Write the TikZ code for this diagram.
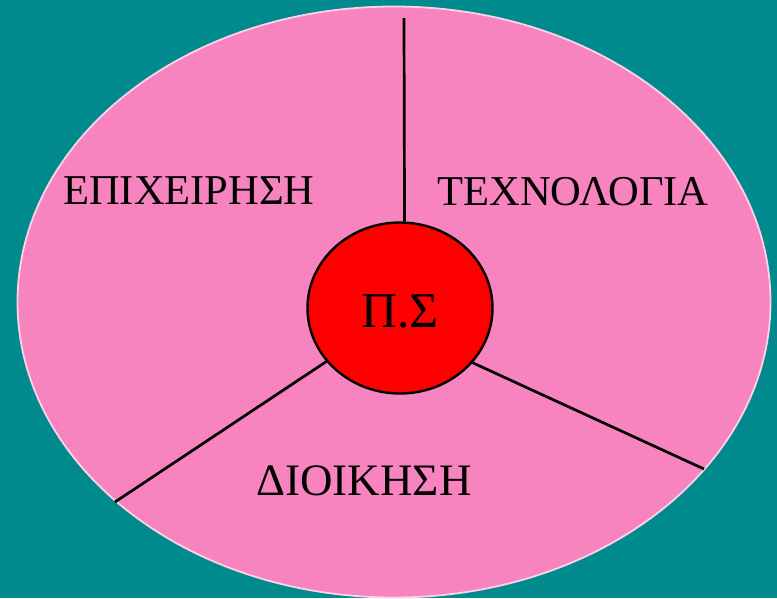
\documentclass[tikz,border=0pt]{standalone}
\usepackage{fontspec}
\setmainfont{Liberation Serif}
\usetikzlibrary{shapes.geometric}
\definecolor{bgteal}{HTML}{008A8E}
\definecolor{pinkfill}{HTML}{F783BF}
\definecolor{pinkedge}{HTML}{FBD3E8}
\definecolor{redfill}{HTML}{FF0000}
\tikzset{
  label text/.style={inner sep=0pt, anchor=base, text=black, font=\fontsize{42.5}{50}\selectfont},
  connector/.style={draw=black, line width=2.7pt},
}
\begin{document}
\begin{tikzpicture}[x=1pt,y=-1pt]
\fill[bgteal] (0,0) rectangle (777,598);
\useasboundingbox (0,0) rectangle (777,598);
\node[ellipse, fill=pinkfill, draw=pinkedge, line width=1.8pt, minimum width=753pt, minimum height=591pt, inner sep=0pt] (outer) at (394,302) {};
\node[ellipse, fill=redfill, draw=black, line width=2.4pt, minimum width=185pt, minimum height=171pt, inner sep=0pt] (ps) at (400,308) {};
\node[inner sep=0pt, anchor=base, font=\fontsize{50}{58}\selectfont] (pstext) at (400,327) {Π.Σ};
\coordinate (topend) at (404,18);
\coordinate (leftend) at (115,502);
\coordinate (rightend) at (704,469);
\draw[connector] (ps.87) -- (topend);
\draw[connector] (ps.216) -- (leftend);
\draw[connector] (ps.-37) -- (rightend);
\node[label text] (epix) at (189,204) {ΕΠΙΧΕΙΡΗΣΗ};
\node[label text] (tech) at (573,205) {ΤΕΧΝΟΛΟΓΙΑ};
\node[label text, font=\fontsize{45}{52}\selectfont] (dioik) at (364,495) {ΔΙΟΙΚΗΣΗ};
\end{tikzpicture}
\end{document}
